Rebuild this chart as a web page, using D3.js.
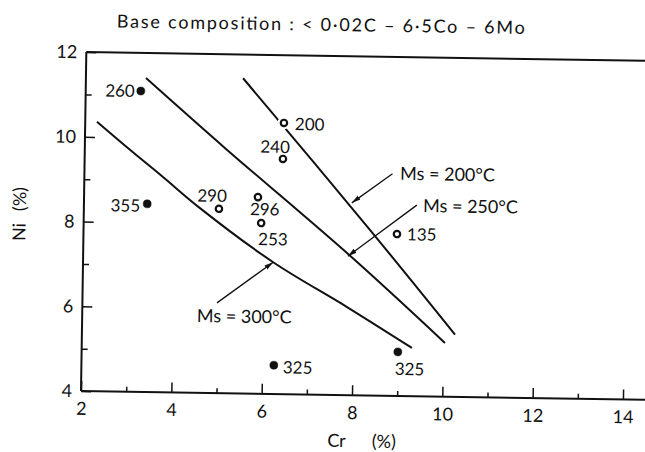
<!DOCTYPE html>
<html>
<head>
<meta charset="utf-8">
<script src="https://d3js.org/d3.v7.min.js"></script>
<style>
body { margin: 0; background: #fff; }
svg { display: block; }
text { font-family: Lato, "DejaVu Sans", sans-serif; fill: #111; }
.axis text { font-size: 18px; }
.axis line { stroke: #111; stroke-width: 1.5; }
</style>
</head>
<body>
<div id="chart"></div>
<script>
// values (Cr %, Ni %)
var pointLabels = ['260', '200', '240', '355', '290', '296', '253', '135', '325', '325'];
var pointCr = [3.22, 6.40, 6.39, 3.40, 4.99, 5.85, 5.93, 8.94, 6.26, 9.00];
var pointNi = [11.10, 10.40, 9.55, 8.44, 8.35, 8.64, 8.03, 7.82, 4.68, 5.04];
var pointFilled = [true, false, false, true, false, false, false, false, true, true];

// Ms iso-lines
var ms300Cr = [2.26, 3.00, 3.74, 4.57, 6.21, 7.86, 9.31];
var ms300Ni = [10.36, 9.71, 9.08, 8.36, 7.11, 6.08, 5.14];
var ms250Cr = [3.33, 5.10, 7.91, 10.04];
var ms250Ni = [11.41, 9.79, 7.29, 5.27];
var ms200Cr = [5.48, 8.34, 10.26];
var ms200Ni = [11.44, 7.91, 5.47];

// annotations: text anchor and arrow start/end, in Cr/Ni units
var noteText = ['Ms = 200°C', 'Ms = 250°C', 'Ms = 300°C'];
var noteAt = [[8.99, 9.10], [9.51, 8.35], [4.54, 5.67]];
var noteFrom = [[8.82, 9.24], [9.37, 8.51], [4.98, 6.13]];
var noteTo = [[7.93, 8.54], [7.86, 7.28], [6.21, 7.11]];

var xTicks = [2, 4, 6, 8, 10, 12, 14];
var xMinor = [3, 5, 7, 9, 11, 13];
var yTicks = [4, 6, 8, 10, 12];
var yMinor = [5, 7, 9, 11];

var svgWidth = 645;
var svgHeight = 452;
var tilt = 0.9; // the scan is a little rotated

// label placement around each marker: [dx, dy, anchor]
var labelOffset = [
    [-6, 6, 'end'], [11, 7, 'start'], [-8, -6, 'middle'], [-7, 8, 'end'],
    [-7, -7, 'middle'], [7, 18, 'middle'], [12, 22, 'middle'], [10, 6, 'start'],
    [9, 8, 'start'], [12, 23, 'middle']
];

var svg = d3.select('#chart')
    .append('svg')
    .attr('width', svgWidth)
    .attr('height', svgHeight);

var defs = svg.append('defs');
defs.append('marker')
    .attr('id', 'arrow')
    .attr('markerUnits', 'userSpaceOnUse')
    .attr('markerWidth', 10)
    .attr('markerHeight', 6)
    .attr('refX', 9)
    .attr('refY', 2.5)
    .attr('orient', 'auto')
    .append('path')
    .attr('d', 'M0,0L9,2.5L0,5z')
    .attr('fill', '#111');

var chartGroup = svg.append('g')
    .attr('transform', `rotate(${tilt}, 81, 391)`);

var xScale = d3.scaleLinear().domain([2, 14]).range([81, 623]);
var yScale = d3.scaleLinear().domain([4, 12]).range([391, 52]);

// frame (left, bottom, top), open on the right
var frame = [
    [[2, 4], [2, 12]],
    [[2, 4], [14.6, 4]],
    [[2, 12], [14.6, 12]]
];
chartGroup.selectAll('.frame')
    .data(frame)
    .enter()
    .append('line')
    .attr('x1', d => xScale(d[0][0]))
    .attr('y1', d => yScale(d[0][1]))
    .attr('x2', d => xScale(d[1][0]))
    .attr('y2', d => yScale(d[1][1]))
    .attr('stroke', '#111')
    .attr('stroke-width', 2);

// axes, ticks pointing inward
var xAxis = chartGroup.append('g')
    .attr('class', 'axis')
    .attr('transform', `translate(0, ${yScale(4)})`)
    .call(d3.axisBottom(xScale).tickValues(xTicks).tickSize(-10).tickPadding(11));
xAxis.select('.domain').remove();

var xAxisMinor = chartGroup.append('g')
    .attr('class', 'axis')
    .attr('transform', `translate(0, ${yScale(4)})`)
    .call(d3.axisBottom(xScale).tickValues(xMinor).tickSize(-5).tickFormat(''));
xAxisMinor.select('.domain').remove();

var yAxis = chartGroup.append('g')
    .attr('class', 'axis')
    .attr('transform', `translate(${xScale(2)}, 0)`)
    .call(d3.axisLeft(yScale).tickValues(yTicks).tickSize(-10).tickPadding(9));
yAxis.select('.domain').remove();

var yAxisMinor = chartGroup.append('g')
    .attr('class', 'axis')
    .attr('transform', `translate(${xScale(2)}, 0)`)
    .call(d3.axisLeft(yScale).tickValues(yMinor).tickSize(-6).tickFormat(''));
yAxisMinor.select('.domain').remove();

// Ms curves
var line = d3.line()
    .x(d => xScale(d[0]))
    .y(d => yScale(d[1]))
    .curve(d3.curveCatmullRom.alpha(0.5));

var curves = [
    d3.zip(ms300Cr, ms300Ni),
    d3.zip(ms250Cr, ms250Ni),
    d3.zip(ms200Cr, ms200Ni)
];
chartGroup.selectAll('.ms')
    .data(curves)
    .enter()
    .append('path')
    .attr('class', 'ms')
    .attr('d', line)
    .attr('fill', 'none')
    .attr('stroke', '#111')
    .attr('stroke-width', 2);

// annotation arrows and texts
noteText.forEach(function(t, i) {
    chartGroup.append('line')
        .attr('x1', xScale(noteFrom[i][0]))
        .attr('y1', yScale(noteFrom[i][1]))
        .attr('x2', xScale(noteTo[i][0]))
        .attr('y2', yScale(noteTo[i][1]))
        .attr('stroke', '#111')
        .attr('stroke-width', 1.3)
        .attr('marker-end', 'url(#arrow)');
    chartGroup.append('text')
        .attr('x', xScale(noteAt[i][0]))
        .attr('y', yScale(noteAt[i][1]))
        .attr('font-size', 18)
        .text(t);
});

// data points
var points = pointLabels.map(function(lbl, i) {
    return { label: lbl, cr: pointCr[i], ni: pointNi[i], filled: pointFilled[i], off: labelOffset[i] };
});

// white halo so a curve breaks around a marker, as in the print
chartGroup.selectAll('.halo')
    .data(points)
    .enter()
    .append('circle')
    .attr('class', 'halo')
    .attr('cx', d => xScale(d.cr))
    .attr('cy', d => yScale(d.ni))
    .attr('r', 6.5)
    .attr('fill', '#fff');

chartGroup.selectAll('.dot')
    .data(points)
    .enter()
    .append('circle')
    .attr('class', 'dot')
    .attr('cx', d => xScale(d.cr))
    .attr('cy', d => yScale(d.ni))
    .attr('r', d => d.filled ? 4 : 3.2)
    .attr('fill', d => d.filled ? '#111' : '#fff')
    .attr('stroke', '#111')
    .attr('stroke-width', d => d.filled ? 0.5 : 2.2);

chartGroup.selectAll('.pt-label')
    .data(points)
    .enter()
    .append('text')
    .attr('class', 'pt-label')
    .attr('x', d => xScale(d.cr) + d.off[0])
    .attr('y', d => yScale(d.ni) + d.off[1])
    .attr('text-anchor', d => d.off[2])
    .attr('font-size', 17)
    .text(d => d.label);

// titles
chartGroup.append('text')
    .attr('x', 111)
    .attr('y', 27)
    .attr('font-size', 18)
    .attr('textLength', 408)
    .attr('lengthAdjust', 'spacing')
    .text('Base composition : < 0·02C – 6·5Co – 6Mo');

var xTitle = chartGroup.append('text')
    .attr('x', 328)
    .attr('y', 443)
    .attr('font-size', 18);
xTitle.append('tspan').text('Cr');
xTitle.append('tspan').attr('dx', 26).text('(%)');

var yTitle = chartGroup.append('text')
    .attr('transform', 'translate(23, 215) rotate(-90)')
    .attr('text-anchor', 'middle')
    .attr('font-size', 18);
yTitle.append('tspan').text('Ni');
yTitle.append('tspan').attr('dx', 12).text('(%)');
</script>
</body>
</html>
